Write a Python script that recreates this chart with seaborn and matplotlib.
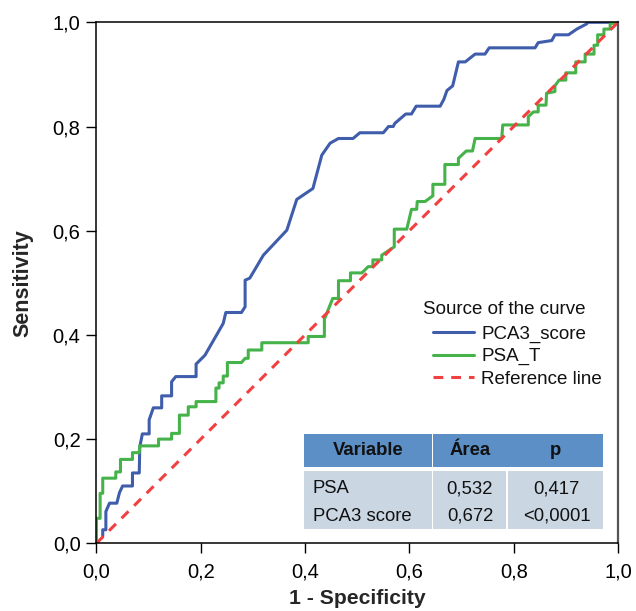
import matplotlib
matplotlib.use("Agg")
import numpy as np
import pandas as pd
import matplotlib.pyplot as plt
from matplotlib.ticker import FuncFormatter
from matplotlib.patches import Rectangle
import seaborn as sns

# Courbe ROC PCA3_score
pca3_x = [0.012, 0.012, 0.018, 0.018, 0.025, 0.039, 0.044, 0.050, 0.069, 0.069,
          0.082, 0.083, 0.088, 0.101, 0.101, 0.109, 0.125, 0.125, 0.144, 0.144,
          0.152, 0.191, 0.191, 0.208, 0.243, 0.248, 0.278, 0.285, 0.285, 0.294,
          0.320, 0.365, 0.384, 0.415, 0.432, 0.448, 0.464, 0.492, 0.505, 0.550,
          0.560, 0.569, 0.572, 0.593, 0.604, 0.613, 0.659, 0.666, 0.672, 0.683,
          0.694, 0.707, 0.726, 0.745, 0.753, 0.841, 0.847, 0.873, 0.879, 0.905,
          0.921, 0.940, 0.942, 1.0]
pca3_y = [0.014, 0.026, 0.026, 0.061, 0.077, 0.077, 0.097, 0.110, 0.110, 0.135,
          0.135, 0.185, 0.210, 0.210, 0.237, 0.260, 0.260, 0.283, 0.283, 0.310,
          0.320, 0.320, 0.344, 0.361, 0.422, 0.443, 0.443, 0.454, 0.505, 0.509,
          0.553, 0.601, 0.660, 0.681, 0.745, 0.768, 0.777, 0.777, 0.788, 0.788,
          0.800, 0.800, 0.806, 0.824, 0.824, 0.839, 0.839, 0.852, 0.869, 0.878,
          0.924, 0.924, 0.939, 0.939, 0.951, 0.951, 0.961, 0.965, 0.976, 0.976,
          0.987, 0.997, 1.0, 1.0]

# Courbe ROC PSA_T
psa_x = [0.0, 0.0, 0.007, 0.007, 0.012, 0.012, 0.037, 0.037, 0.046, 0.046,
         0.069, 0.069, 0.082, 0.083, 0.119, 0.119, 0.144, 0.144, 0.159, 0.159,
         0.176, 0.176, 0.191, 0.191, 0.229, 0.229, 0.235, 0.235, 0.243, 0.243,
         0.251, 0.251, 0.278, 0.285, 0.291, 0.291, 0.317, 0.317, 0.406, 0.406,
         0.437, 0.437, 0.453, 0.464, 0.464, 0.487, 0.487, 0.509, 0.521, 0.530,
         0.530, 0.547, 0.547, 0.571, 0.571, 0.595, 0.604, 0.614, 0.615, 0.630,
         0.645, 0.645, 0.668, 0.668, 0.694, 0.694, 0.709, 0.721, 0.726, 0.777,
         0.779, 0.828, 0.828, 0.838, 0.847, 0.847, 0.862, 0.863, 0.879, 0.879,
         0.887, 0.900, 0.900, 0.919, 0.919, 0.937, 0.937, 0.954, 0.954, 0.961,
         0.961, 0.973, 0.973, 0.985, 0.985, 0.991, 0.991, 1.0]
psa_y = [0.0, 0.048, 0.048, 0.096, 0.096, 0.125, 0.125, 0.137, 0.137, 0.161,
         0.161, 0.174, 0.174, 0.187, 0.187, 0.200, 0.200, 0.211, 0.211, 0.246,
         0.246, 0.262, 0.262, 0.272, 0.272, 0.298, 0.298, 0.308, 0.308, 0.321,
         0.321, 0.347, 0.347, 0.355, 0.355, 0.371, 0.371, 0.385, 0.385, 0.397,
         0.397, 0.430, 0.470, 0.470, 0.504, 0.504, 0.519, 0.519, 0.531, 0.531,
         0.544, 0.544, 0.553, 0.569, 0.603, 0.603, 0.641, 0.641, 0.656, 0.656,
         0.667, 0.689, 0.689, 0.727, 0.727, 0.739, 0.753, 0.753, 0.777, 0.777,
         0.803, 0.803, 0.819, 0.828, 0.828, 0.841, 0.841, 0.864, 0.867, 0.878,
         0.889, 0.889, 0.903, 0.903, 0.924, 0.924, 0.939, 0.939, 0.956, 0.956,
         0.976, 0.976, 0.987, 0.987, 0.998, 0.998, 1.0, 1.0]

ref_x = [0.0, 1.0]
ref_y = [0.0, 1.0]

ticks = [0.0, 0.2, 0.4, 0.6, 0.8, 1.0]

# Tableau des aires
tab_header = ["Variable", "Área", "p"]
tab_variables = ["PSA", "PCA3 score"]
tab_area = ["0,532", "0,672"]
tab_p = ["0,417", "<0,0001"]

BLEU = "#3F5DAB"
VERT = "#45B34A"
ROUGE = "#F04040"

sns.set_style("white")
plt.rcParams["font.family"] = ["Liberation Sans", "DejaVu Sans"]

fig = plt.figure(figsize=(6.36, 6.11), dpi=100)
ax = fig.add_axes([0.1517, 0.1108, 0.82, 0.8527])

df_pca3 = pd.DataFrame({"x": pca3_x, "y": pca3_y})
df_psa = pd.DataFrame({"x": psa_x, "y": psa_y})
df_ref = pd.DataFrame({"x": ref_x, "y": ref_y})

sns.lineplot(data=df_pca3, x="x", y="y", sort=False, estimator=None, ax=ax,
             color=BLEU, lw=2.2, label="PCA3_score")
sns.lineplot(data=df_psa, x="x", y="y", sort=False, estimator=None, ax=ax,
             color=VERT, lw=2.2, label="PSA_T")
sns.lineplot(data=df_ref, x="x", y="y", sort=False, estimator=None, ax=ax,
             color=ROUGE, lw=2.2, label="Reference line", dashes=False)
ax.lines[-1].set_dashes([3.2, 2.6])

ax.set_xlim(0, 1)
ax.set_ylim(0, 1)
ax.set_xticks(ticks)
ax.set_yticks(ticks)
virgule = FuncFormatter(lambda v, p: f"{v:.1f}".replace(".", ","))
ax.xaxis.set_major_formatter(virgule)
ax.yaxis.set_major_formatter(virgule)
ax.tick_params(axis="both", direction="out", length=7.5, width=1, colors="black",
               labelsize=14.5, pad=4, bottom=True, left=True)
ax.tick_params(axis="x", pad=6.5)
for s in ax.spines.values():
    s.set_color("black")
    s.set_linewidth(1.1)
ax.spines["right"].set_color("#555555")
ax.spines["right"].set_linewidth(1.6)

ax.set_xlabel("1 - Specificity", fontsize=15.2, fontweight="bold")
ax.set_ylabel("Sensitivity", fontsize=15.5, fontweight="bold")
ax.xaxis.set_label_coords(0.5, -0.088)
ax.yaxis.set_label_coords(-0.12, 0.5)

# Légende : titre à part, entrées décalées
ax.text(0.627, 0.449, "Source of the curve", transform=ax.transAxes,
        ha="left", va="center", fontsize=13.5, color="#111111")
leg = ax.legend(loc="upper left", bbox_to_anchor=(0.646, 0.418), frameon=False,
                fontsize=13.5, handlelength=2.15, handletextpad=0.4,
                labelspacing=0.28, borderpad=0, borderaxespad=0)
for t in leg.get_texts():
    t.set_color("#111111")

# Tableau (en coordonnées d'axes)
tr = ax.transAxes
ax.add_patch(Rectangle((0.397, 0.147), 0.246, 0.063, transform=tr,
                       facecolor="#5B8FC6", edgecolor="none", zorder=5))
ax.add_patch(Rectangle((0.646, 0.147), 0.326, 0.063, transform=tr,
                       facecolor="#5B8FC6", edgecolor="none", zorder=5))
ax.add_patch(Rectangle((0.397, 0.027), 0.246, 0.112, transform=tr,
                       facecolor="#CBD6E3", edgecolor="none", zorder=5))
ax.add_patch(Rectangle((0.646, 0.027), 0.140, 0.112, transform=tr,
                       facecolor="#CBD6E3", edgecolor="none", zorder=5))
ax.add_patch(Rectangle((0.789, 0.027), 0.183, 0.112, transform=tr,
                       facecolor="#CBD6E3", edgecolor="none", zorder=5))

for lab, xc in zip(tab_header, [0.521, 0.716, 0.880]):
    ax.text(xc, 0.178, lab, transform=tr, ha="center", va="center",
            fontsize=13.3, fontweight="bold", color="#111111", zorder=6)
for i, yc in enumerate([0.105, 0.052]):
    ax.text(0.415, yc, tab_variables[i], transform=tr, ha="left", va="center",
            fontsize=13.3, color="#111111", zorder=6)
    ax.text(0.716, yc, tab_area[i], transform=tr, ha="center", va="center",
            fontsize=13.3, color="#111111", zorder=6)
    ax.text(0.882, yc, tab_p[i], transform=tr, ha="center", va="center",
            fontsize=13.3, color="#111111", zorder=6)

fig.savefig("out.png", dpi=100)
